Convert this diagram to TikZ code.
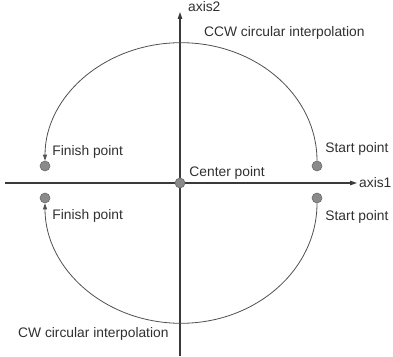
\documentclass[tikz,border=0pt]{standalone}
\usepackage{fontspec}
\setmainfont{Liberation Sans}
\usepackage{tikz}
\usetikzlibrary{arrows.meta, positioning}
\definecolor{axisgray}{HTML}{3A3A3A}
\definecolor{arcgray}{HTML}{505050}
\definecolor{dotfill}{HTML}{8A8A8A}
\definecolor{dotdraw}{HTML}{6A6A6A}
\definecolor{textgray}{HTML}{303030}
\tikzstyle{dot} = [circle, minimum size=10pt, inner sep=0pt, fill=dotfill, draw=dotdraw, line width=0.6pt]
\tikzstyle{lbl} = [inner sep=0pt, text=textgray, font=\fontsize{13.8}{15}\selectfont]
\tikzstyle{axis} = [line width=1.1pt, color=axisgray, -{Triangle[length=7pt,width=4.5pt]}]
\tikzstyle{arcline} = [line width=0.8pt, color=arcgray, -{Triangle[length=6pt,width=4pt]}]

\begin{document}
\begin{tikzpicture}[x=1pt, y=1pt]
    \useasboundingbox (0,0) rectangle (393,356);
    \coordinate (xl) at (5,173);
    \coordinate (xr) at (357,173);
    \coordinate (yb) at (180,0);
    \coordinate (yt) at (180,344);
    \draw[axis] (xl) -- (xr);
    \draw[axis] (yb) -- (yt);
    \node[lbl, anchor=base west] (axisa) at (359,168) {axis1};
    \node[lbl, anchor=base west] (axisb) at (188,344) {axis2};

    \node[dot] (center) at (180,173) {};
    \node[dot] (starttop) at (317,190) {};
    \node[dot] (finishtop) at (45,190) {};
    \node[dot] (startbot) at (317,158) {};
    \node[dot] (finishbot) at (45,158) {};

    \node[lbl, above right=0pt and 5.5pt of center] (centerlbl) {Center point};
    \node[lbl, above right=6.5pt and 4.5pt of starttop] (starttoplbl) {Start point};
    \node[lbl, above right=4pt and 3.5pt of finishtop] (finishtoplbl) {Finish point};
    \node[lbl, below right=8.5pt and 4.5pt of startbot] (startbotlbl) {Start point};
    \node[lbl, below right=7.5pt and 3.5pt of finishbot] (finishbotlbl) {Finish point};

    \node[lbl, anchor=base west] (ccwlbl) at (204,319) {CCW circular interpolation};
    \node[lbl, anchor=base west] (cwlbl) at (18,19) {CW circular interpolation};

    \draw[arcline] (starttop.north) arc[start angle=0, end angle=180, x radius=136, y radius=118];
    \draw[arcline] (startbot.south) arc[start angle=0, end angle=-180, x radius=136, y radius=120];
\end{tikzpicture}
\end{document}
